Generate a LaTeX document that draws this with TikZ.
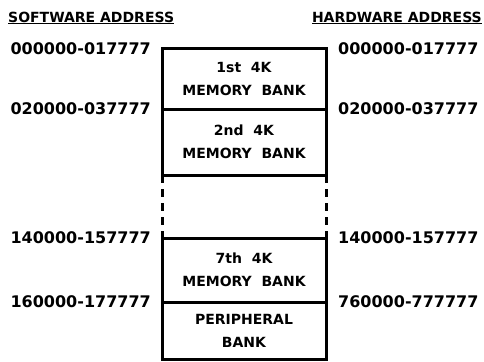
\documentclass[tikz,border=0pt]{standalone}
\usepackage{fontspec}
\setmainfont{DejaVu Sans}
\usetikzlibrary{positioning}
\tikzset{bank/.style={draw,line width=3pt,minimum width=164pt,inner sep=0pt,outer sep=0pt,align=center,font=\bfseries\fontsize{14}{23}\selectfont},
addr/.style={font=\bfseries\fontsize{16}{18}\selectfont,inner sep=0pt},
head/.style={font=\bfseries\fontsize{14}{16}\selectfont,inner sep=0pt}
}

\begin{document}
\begin{tikzpicture}[x=1pt,y=-1pt]
  \useasboundingbox (0,0) rectangle (484,361);

  % Headings
    \node[head, anchor=west] (sw) at (8,18) {\underline{SOFTWARE ADDRESS}};
    \node[head, anchor=east] (hw) at (482,18) {\underline{HARDWARE ADDRESS}};

  % Memory banks
    \node[bank, minimum height=60pt, anchor=north] (b1) at (244,49) {1st~ 4K\\MEMORY~ BANK};
    \node[bank, minimum height=66pt, below = 0pt of b1] (b2) {2nd~ 4K\\MEMORY~ BANK};
    \node[bank, minimum height=64pt, below = 63pt of b2] (b7) {7th~ 4K\\MEMORY~ BANK};
    \node[bank, minimum height=57pt, below = 0pt of b7] (p) {PERIPHERAL\\BANK};

    % Gap between the 2nd and 7th bank
    \draw[line width=3pt, dash pattern=on 8pt off 6pt] (b2.south west) -- (b7.north west);
    \draw[line width=3pt, dash pattern=on 8pt off 6pt] (b2.south east) -- (b7.north east);

  % Software addresses
    \node[addr, left = 11pt of b1.north west] (s1) {000000-017777};
    \node[addr, left = 11pt of b2.north west] (s2) {020000-037777};
    \node[addr, left = 11pt of b7.north west] (s7) {140000-157777};
    \node[addr, left = 11pt of p.north west] (sp) {160000-177777};

  % Hardware addresses
    \node[addr, right = 12pt of b1.north east] (h1) {000000-017777};
    \node[addr, right = 12pt of b2.north east] (h2) {020000-037777};
    \node[addr, right = 12pt of b7.north east] (h7) {140000-157777};
    \node[addr, right = 12pt of p.north east] (hp) {760000-777777};

  \end{tikzpicture}
\end{document}
